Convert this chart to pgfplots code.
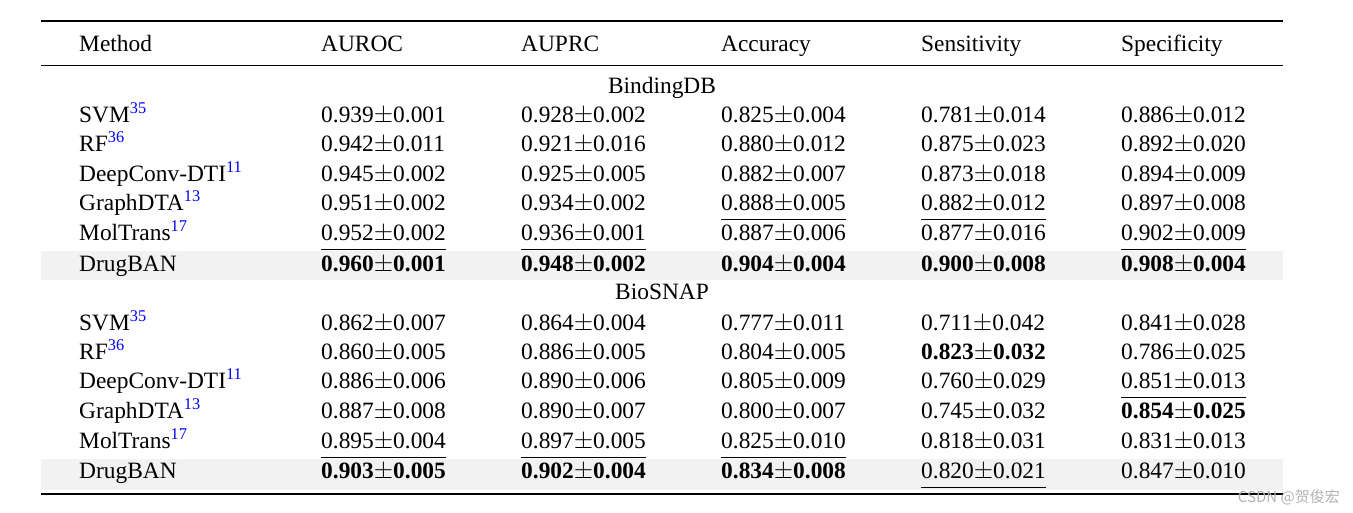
\documentclass[border=0pt]{standalone}
\usepackage{pgfplots}
\pgfplotsset{compat=1.18}
\usepackage{fontspec}
\setmainfont{Liberation Serif}
\newfontfamily\cjk{Noto Sans CJK SC}
\newcommand\sups[1]{\textsuperscript{\textcolor{blue}{#1}}}
\newcommand\ul[1]{\setbox0\hbox{#1}\rlap{\rule[-9.5pt]{\wd0}{1.5pt}}\box0}
\newcommand\bv[1]{\textbf{#1}}
\newcommand\pmm{$\pm$}
\begin{document}
\begin{tikzpicture}
\begin{axis}[scale only axis, width=1353pt, height=512pt,
  xmin=0, xmax=1353, ymin=0, ymax=512, y dir=reverse, hide axis, clip=false,
  cell/.style={draw=none, mark=none, nodes near coords, point meta=explicit symbolic,
    every node near coord/.style={anchor=base west, inner sep=0pt, text=black,
      font=\fontsize{23.4}{27}\selectfont}},
  ]
% bounding box
\addplot[draw=none] coordinates {(0,0) (1353,512)};
% shading
\addplot[fill=gray!10, draw=none] coordinates {(41,251) (1283,251) (1283,280) (41,280)};
\addplot[fill=gray!10, draw=none] coordinates {(41,459) (1283,459) (1283,490) (41,490)};
% rules
\addplot[black, line width=2pt] coordinates {(41,21) (1283,21)};
\addplot[black, line width=1pt] coordinates {(41,65) (1283,65)};
\addplot[black, line width=2pt] coordinates {(41,494) (1283,494)};
% header
\addplot[cell] table[x=x, y=y, meta=t, row sep=\\] {
x y t\\
79 51.5 {Method}\\
321 51.5 {AUROC}\\
521 51.5 {AUPRC}\\
721 51.5 {Accuracy}\\
921 51.5 {Sensitivity}\\
1121 51.5 {Specificity}\\
};
% group labels
\addplot[cell, every node near coord/.append style={anchor=base}] table[x=x, y=y, meta=t, row sep=\\] {
x y t\\
662 93.5 {BindingDB}\\
662 299.5 {BioSNAP}\\
};
% Method column
\addplot[cell] table[x=x, y=y, meta=t, row sep=\\] {
x y t\\
79 122.5 {SVM\sups{35}}\\
79 151.5 {RF\sups{36}}\\
79 181.5 {DeepConv-DTI\sups{11}}\\
79 210.5 {GraphDTA\sups{13}}\\
79 240.5 {MolTrans\sups{17}}\\
79 271.5 {DrugBAN}\\
79 330.5 {SVM\sups{35}}\\
79 359.5 {RF\sups{36}}\\
79 388.5 {DeepConv-DTI\sups{11}}\\
79 418.5 {GraphDTA\sups{13}}\\
79 448.5 {MolTrans\sups{17}}\\
79 478.5 {DrugBAN}\\
};
% AUROC
\addplot[cell] table[x=x, y=y, meta=t, row sep=\\] {
x y t\\
321 122.5 {0.939\pmm0.001}\\
321 151.5 {0.942\pmm0.011}\\
321 181.5 {0.945\pmm0.002}\\
321 210.5 {0.951\pmm0.002}\\
321 240.5 {\ul{0.952\pmm0.002}}\\
321 271.5 {\bv{0.960\pmm0.001}}\\
321 330.5 {0.862\pmm0.007}\\
321 359.5 {0.860\pmm0.005}\\
321 388.5 {0.886\pmm0.006}\\
321 418.5 {0.887\pmm0.008}\\
321 448.5 {\ul{0.895\pmm0.004}}\\
321 478.5 {\bv{0.903\pmm0.005}}\\
};
% AUPRC
\addplot[cell] table[x=x, y=y, meta=t, row sep=\\] {
x y t\\
521 122.5 {0.928\pmm0.002}\\
521 151.5 {0.921\pmm0.016}\\
521 181.5 {0.925\pmm0.005}\\
521 210.5 {0.934\pmm0.002}\\
521 240.5 {\ul{0.936\pmm0.001}}\\
521 271.5 {\bv{0.948\pmm0.002}}\\
521 330.5 {0.864\pmm0.004}\\
521 359.5 {0.886\pmm0.005}\\
521 388.5 {0.890\pmm0.006}\\
521 418.5 {0.890\pmm0.007}\\
521 448.5 {\ul{0.897\pmm0.005}}\\
521 478.5 {\bv{0.902\pmm0.004}}\\
};
% Accuracy
\addplot[cell] table[x=x, y=y, meta=t, row sep=\\] {
x y t\\
721 122.5 {0.825\pmm0.004}\\
721 151.5 {0.880\pmm0.012}\\
721 181.5 {0.882\pmm0.007}\\
721 210.5 {\ul{0.888\pmm0.005}}\\
721 240.5 {0.887\pmm0.006}\\
721 271.5 {\bv{0.904\pmm0.004}}\\
721 330.5 {0.777\pmm0.011}\\
721 359.5 {0.804\pmm0.005}\\
721 388.5 {0.805\pmm0.009}\\
721 418.5 {0.800\pmm0.007}\\
721 448.5 {\ul{0.825\pmm0.010}}\\
721 478.5 {\bv{0.834\pmm0.008}}\\
};
% Sensitivity
\addplot[cell] table[x=x, y=y, meta=t, row sep=\\] {
x y t\\
921 122.5 {0.781\pmm0.014}\\
921 151.5 {0.875\pmm0.023}\\
921 181.5 {0.873\pmm0.018}\\
921 210.5 {\ul{0.882\pmm0.012}}\\
921 240.5 {0.877\pmm0.016}\\
921 271.5 {\bv{0.900\pmm0.008}}\\
921 330.5 {0.711\pmm0.042}\\
921 359.5 {\bv{0.823\pmm0.032}}\\
921 388.5 {0.760\pmm0.029}\\
921 418.5 {0.745\pmm0.032}\\
921 448.5 {0.818\pmm0.031}\\
921 478.5 {\ul{0.820\pmm0.021}}\\
};
% Specificity
\addplot[cell] table[x=x, y=y, meta=t, row sep=\\] {
x y t\\
1121 122.5 {0.886\pmm0.012}\\
1121 151.5 {0.892\pmm0.020}\\
1121 181.5 {0.894\pmm0.009}\\
1121 210.5 {0.897\pmm0.008}\\
1121 240.5 {\ul{0.902\pmm0.009}}\\
1121 271.5 {\bv{0.908\pmm0.004}}\\
1121 330.5 {0.841\pmm0.028}\\
1121 359.5 {0.786\pmm0.025}\\
1121 388.5 {\ul{0.851\pmm0.013}}\\
1121 418.5 {\bv{0.854\pmm0.025}}\\
1121 448.5 {0.831\pmm0.013}\\
1121 478.5 {0.847\pmm0.010}\\
};
% watermark
\addplot[cell, every node near coord/.append style={anchor=base east, text=gray!60, font=\cjk\fontsize{15}{17}\selectfont}] table[x=x, y=y, meta=t, row sep=\\] {
x y t\\
1340 502 {CSDN @贺俊宏}\\
};
\end{axis}
\end{tikzpicture}
\end{document}
